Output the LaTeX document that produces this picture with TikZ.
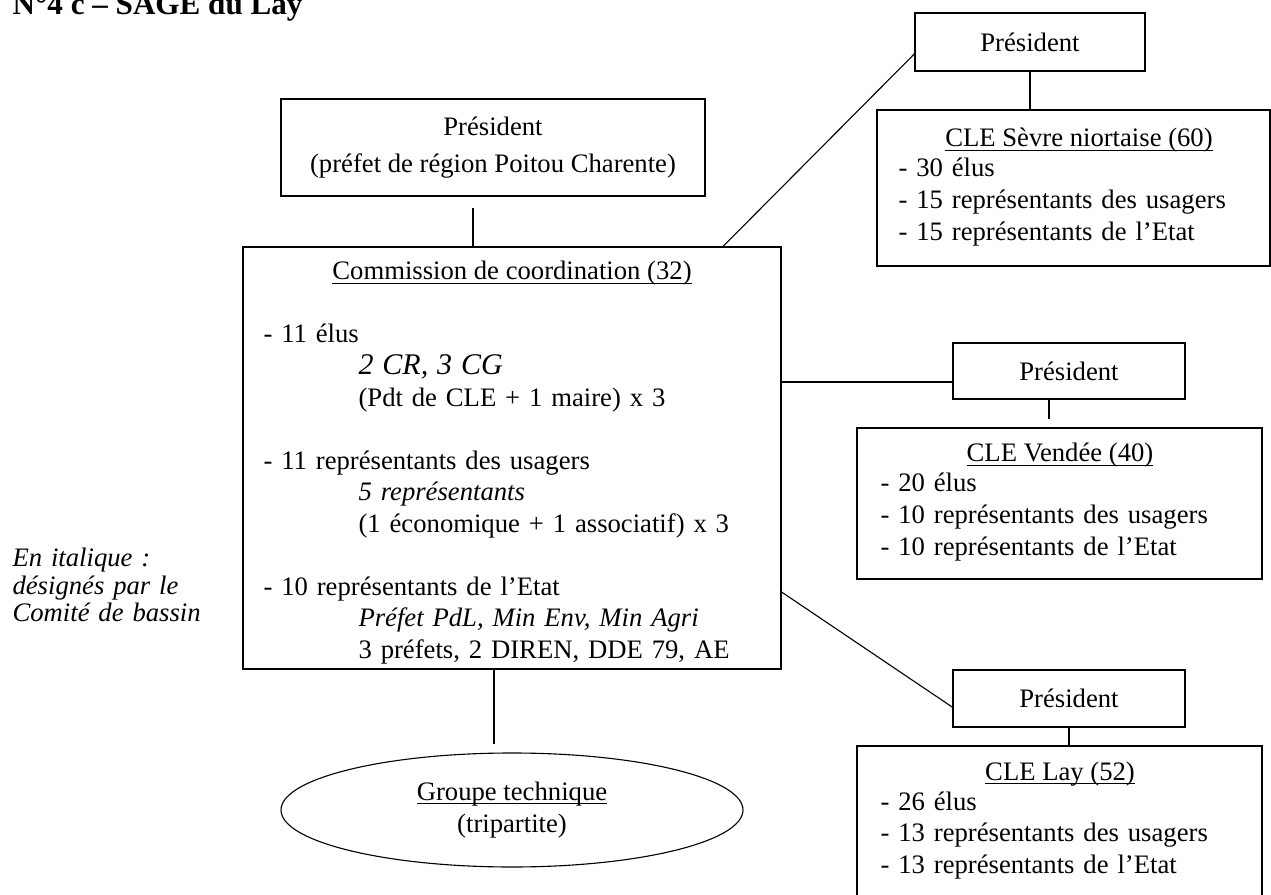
\documentclass[tikz,border=0pt]{standalone}
\usepackage{fontspec}
\setmainfont{Liberation Serif}
\usetikzlibrary{fit,calc,shapes.geometric}
\newcommand{\subind}{\hspace*{42.75pt}}
\newsavebox{\undlbox}
\newcommand{\undl}[1]{\sbox{\undlbox}{#1}\rlap{\rule[-1.6pt]{\wd\undlbox}{0.45pt}}\usebox{\undlbox}}

\begin{document}
\begin{tikzpicture}[x=0.45pt,y=-0.45pt,line width=0.5pt,
  box/.style={draw,inner sep=0pt},
  presbox/.style={draw,inner sep=0pt,font=\fontsize{12}{14.2}\selectfont,minimum width=104.4pt,minimum height=25.4pt},
  txt/.style={inner sep=0pt,font=\fontsize{12}{14.2}\selectfont},
  lst/.style={txt,anchor=base west,align=left,text width=190pt}]
\useasboundingbox (0,0) rectangle (1271,895);
\clip (0,0) rectangle (1271,895);
% ---- title and note
\node[inner sep=0pt,anchor=base west,font=\fontsize{14}{16}\selectfont\bfseries] (title) at (12,15) {N°4 c – SAGE du Lay};
\node[inner sep=0pt,anchor=base west,align=left,text width=100pt,font=\fontsize{12}{12.3}\selectfont\itshape] (note) at (12,567) {En italique :\\désignés par le\\Comité de bassin};
% ---- commission
\node[presbox,minimum width=190.8pt,minimum height=43.65pt,align=center] (presL) at (493,147.5) {Président\\[2.8pt](préfet de région Poitou Charente)};
\node[box,fit={(243,247) (781,669)}] (comm) {};
\node[txt,anchor=base] (commT) at (512,280) {\undl{Commission de coordination (32)}};
\node[lst,text width=230pt] (commB) at (263,343) {- 11 élus\\
  \subind{\fontsize{13.5}{14.2}\selectfont\itshape 2 CR, 3 CG}\\
  \subind(Pdt de CLE + 1 maire) x 3\\[14.2pt]
  - 11 représentants des usagers\\
  \subind\textit{5 représentants}\\
  \subind(1 économique + 1 associatif) x 3\\[14.2pt]
  - 10 représentants de l’Etat\\
  \subind\textit{Préfet PdL, Min Env, Min Agri}\\
  \subind 3 préfets, 2 DIREN, DDE 79, AE};
\node[draw,ellipse,txt,minimum width=207.9pt,minimum height=51.3pt,align=center] (groupe) at (512,810) {\undl{Groupe technique}\\(tripartite)};
% ---- CLE Sèvre niortaise
\node[presbox,minimum width=103.5pt,minimum height=26.1pt] (presT) at (1030,42) {Président};
\node[box,fit={(877,110) (1270,266)}] (sevre) {};
\node[txt,anchor=base] (sevreT) at (1079,147) {\undl{CLE Sèvre niortaise (60)}};
\node[lst] (sevreB) at (898,177) {- 30 élus\\- 15 représentants des usagers\\- 15 représentants de l’Etat};
% ---- CLE Vendée
\node[presbox,minimum height=25.2pt] (presM) at (1069,371) {Président};
\node[box,fit={(857,428) (1262,579)}] (vendee) {};
\node[txt,anchor=base] (vendeeT) at (1060,462) {\undl{CLE Vendée (40)}};
\node[lst] (vendeeB) at (880,492) {- 20 élus\\- 10 représentants des usagers\\- 10 représentants de l’Etat};
% ---- CLE Lay
\node[presbox,minimum height=25.65pt] (presB) at (1069,698.5) {Président};
\node[box,fit={(857,746) (1262,920)}] (lay) {};
\node[txt,anchor=base] (layT) at (1060,780) {\undl{CLE Lay (52)}};
\node[lst] (layB) at (880,810) {- 26 élus\\- 13 représentants des usagers\\- 13 représentants de l’Etat};
% ---- links
\coordinate (dropL) at (473,0);
\coordinate (slantT) at (723,0);
\coordinate (armM) at (0,382);
\coordinate (dropM) at (1049,0);
\coordinate (armB) at (0,592);
\coordinate (dropG) at (494,0);
\draw[shorten <=5pt] (presL.south -| dropL) -- (comm.north -| dropL);
\draw (comm.north -| slantT) -- ($(presT.south west)!0.3!(presT.north west)$);
\draw (presT.south) -- (sevre.north -| presT.south);
\draw (comm.east |- armM) -- (presM.west |- armM);
\draw[shorten >=4pt] (presM.south -| dropM) -- (vendee.north -| dropM);
\draw (comm.east |- armB) -- ($(presB.south west)!0.35!(presB.north west)$);
\draw (presB.south) -- (lay.north -| presB.south);
\draw[shorten >=3.6pt] (comm.south -| dropG) -- (groupe.north -| dropG);
\end{tikzpicture}
\end{document}
